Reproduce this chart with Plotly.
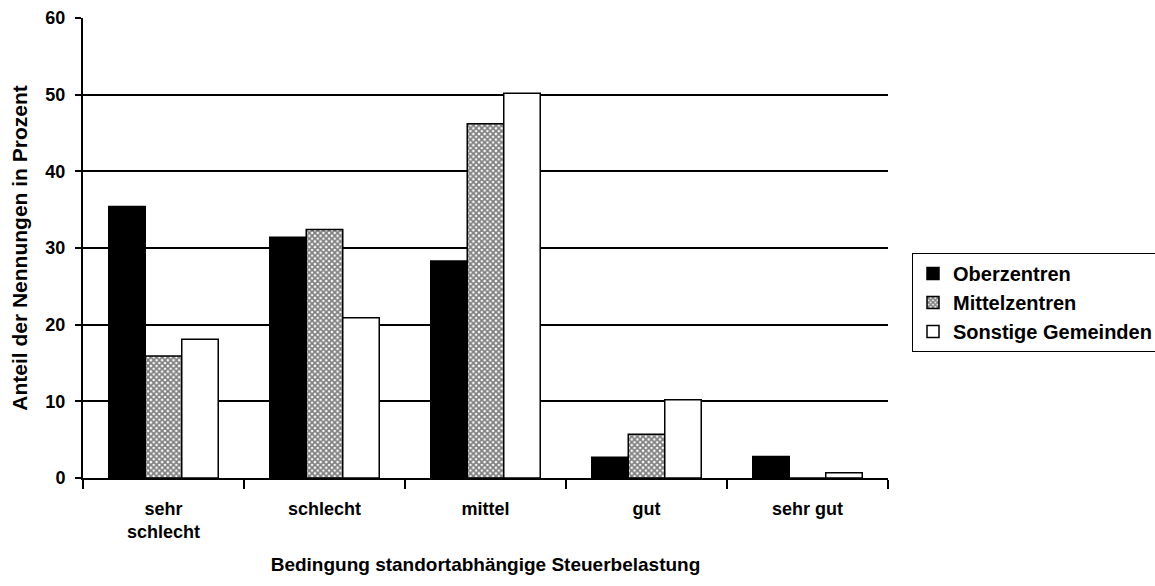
import plotly.graph_objects as go

categories = ["sehr<br>schlecht", "schlecht", "mittel", "gut", "sehr gut"]
series_names = ["Oberzentren", "Mittelzentren", "Sonstige Gemeinden"]
oberzentren = [35.4, 31.4, 28.3, 2.7, 2.8]
mittelzentren = [15.9, 32.4, 46.2, 5.7, 0.0]
sonstige = [18.1, 20.9, 50.2, 10.2, 0.7]
y_ticks = [0, 10, 20, 30, 40, 50, 60]

FONT = "Arial, 'Liberation Sans', sans-serif"

fig = go.Figure()
fig.add_trace(go.Bar(
    x=categories, y=oberzentren, name=series_names[0], legendgroup="a",
    marker=dict(color="black", line=dict(color="black", width=1.5)),
))
fig.add_trace(go.Bar(
    x=categories, y=mittelzentren, name=series_names[1], legendgroup="b",
    marker=dict(color="white", line=dict(color="black", width=1.5),
                pattern=dict(shape="x", fgcolor="black", bgcolor="white",
                             size=4, solidity=0.7, fillmode="overlay")),
))
fig.add_trace(go.Bar(
    x=categories, y=sonstige, name=series_names[2], legendgroup="c",
    marker=dict(color="white", line=dict(color="black", width=1.5)),
))

fig.update_layout(
    width=1155, height=586,
    margin=dict(l=83, r=267, t=18, b=108),
    paper_bgcolor="white", plot_bgcolor="white",
    barmode="group", bargap=0.32, bargroupgap=0,
    font=dict(family=FONT, size=18, color="black", weight="bold"),
    showlegend=True,
    legend=dict(
        xref="container", yref="container",
        x=912 / 1155, y=1 - 253 / 586, xanchor="left", yanchor="top",
        bordercolor="black", borderwidth=1, bgcolor="white",
        font=dict(family=FONT, size=20, color="black", weight="bold"),
        tracegroupgap=7, traceorder="normal",
    ),
    xaxis=dict(
        automargin=False,
        showline=True, linecolor="black", linewidth=2,
        ticks="outside", tickson="boundaries", ticklen=9, tickwidth=2, tickcolor="black",
        tickfont=dict(family=FONT, size=18, color="black", weight="bold"),
        ticklabelstandoff=13,
        title=dict(text="Bedingung standortabhängige Steuerbelastung",
                   font=dict(family=FONT, size=19, color="black", weight="bold"),
                   standoff=17),
        showgrid=False, fixedrange=True,
    ),
    yaxis=dict(
        automargin=False,
        range=[0, 60], tickvals=y_ticks,
        showline=True, linecolor="black", linewidth=2,
        ticks="outside", ticklen=6, tickwidth=2, tickcolor="black",
        ticklabelstandoff=6,
        showgrid=True, gridcolor="black", gridwidth=2,
        zeroline=False,
        tickfont=dict(family=FONT, size=18, color="black", weight="bold"),
        title=dict(text="Anteil der Nennungen in Prozent",
                   font=dict(family=FONT, size=21, color="black", weight="bold"),
                   standoff=12),
        fixedrange=True,
    ),
)

fig.write_html("out.html", config={"displayModeBar": False},
               post_script="document.body.style.margin='0';")
